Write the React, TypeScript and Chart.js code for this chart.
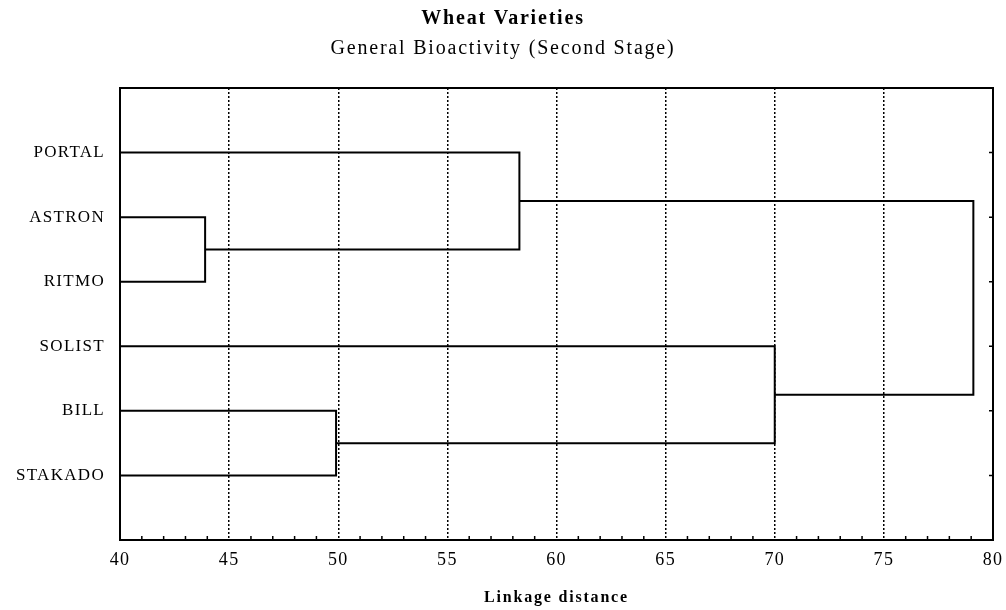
import React, { useEffect, useRef } from "react";
import { Chart, registerables } from "chart.js";

Chart.register(...registerables);

const categories = ["PORTAL", "ASTRON", "RITMO", "SOLIST", "BILL", "STAKADO"];
// linkage: node ids 0..5 are leaves, 6.. are merges in order
const mergeLeft = [1, 4, 0, 3, 8];
const mergeRight = [2, 5, 6, 7, 9];
const mergeDistance = [43.9, 49.9, 58.3, 70.0, 79.1];
const xMin = 40;
const xMax = 80;
const xStep = 5;

const titleText = "Wheat Varieties";
const subtitleText = "General Bioactivity (Second Stage)";
const xTitleText = "Linkage distance";

const FONT = "'Liberation Serif', 'Times New Roman', serif";

function buildSegments() {
  const nodeX: number[] = categories.map(() => xMin);
  const nodeY: number[] = categories.map((_, i) => i + 1);
  const segments: { x: number; y: number }[][] = [];
  mergeDistance.forEach((d, k) => {
    const a = mergeLeft[k];
    const b = mergeRight[k];
    segments.push([
      { x: nodeX[a], y: nodeY[a] },
      { x: d, y: nodeY[a] },
      { x: d, y: nodeY[b] },
      { x: nodeX[b], y: nodeY[b] },
    ]);
    nodeX.push(d);
    nodeY.push((nodeY[a] + nodeY[b]) / 2);
  });
  return segments;
}

const framePlugin = {
  id: "framePlugin",
  beforeDraw(chart: any) {
    chart.ctx.letterSpacing = "1.8px";
  },
  afterDatasetsDraw(chart: any) {
    const { ctx, chartArea } = chart;
    const xs = chart.scales.x;
    const ys = chart.scales.y;
    ctx.save();
    ctx.strokeStyle = "#000";
    ctx.lineWidth = 1.5;
    ctx.beginPath();
    for (let v = xMin + 1; v < xMax; v++) {
      if (v % xStep === 0) continue;
      const px = xs.getPixelForValue(v);
      ctx.moveTo(px, chartArea.bottom);
      ctx.lineTo(px, chartArea.bottom - 4);
    }
    categories.forEach((_, i) => {
      const py = ys.getPixelForValue(i + 1);
      ctx.moveTo(chartArea.right, py);
      ctx.lineTo(chartArea.right - 4, py);
    });
    ctx.stroke();
    ctx.lineWidth = 2;
    ctx.strokeRect(
      chartArea.left,
      chartArea.top,
      chartArea.right - chartArea.left,
      chartArea.bottom - chartArea.top
    );
    ctx.restore();
    ctx.letterSpacing = "1.3px";
  },
};

export default function App() {
  const ref = useRef<HTMLCanvasElement | null>(null);
  useEffect(() => {
    document.body.style.margin = "0";
    const segments = buildSegments();
    const chart = new Chart(ref.current as HTMLCanvasElement, {
      type: "scatter",
      data: {
        datasets: segments.map((seg, i) => ({
          label: "merge " + i,
          data: seg,
          showLine: true,
          borderColor: "#000",
          borderWidth: 2,
          pointRadius: 0,
          tension: 0,
          fill: false,
          yAxisID: "y",
        })),
      },
      options: {
        responsive: false,
        animation: false,
        events: [],
        layout: { padding: { left: 0, right: 0, top: 0, bottom: 0 } },
        plugins: {
          legend: { display: false },
          tooltip: { enabled: false },
          title: {
            display: true,
            text: titleText,
            color: "#000",
            font: { family: FONT, size: 20, weight: "bold" },
            padding: { top: 6.5, bottom: 0 },
          },
          subtitle: {
            display: true,
            text: subtitleText,
            color: "#000",
            font: { family: FONT, size: 20, weight: "normal" },
            padding: { top: 6, bottom: 27.5 },
          },
        },
        scales: {
          x: {
            type: "linear",
            min: xMin,
            max: xMax,
            afterFit(scale: any) {
              scale.height = 70;
              scale.paddingLeft = 0;
              scale.paddingRight = 0;
            },
            ticks: {
              stepSize: xStep,
              color: "#000",
              font: { family: FONT, size: 18 },
              padding: 9,
              z: 1,
            },
            grid: {
              color: "#000",
              lineWidth: 1.5,
              drawTicks: false,
            },
            border: { display: false, dash: [2, 2] },
            title: {
              display: true,
              text: xTitleText,
              color: "#000",
              font: { family: FONT, size: 16, weight: "bold" },
              padding: { top: 4, bottom: 3 },
            },
          },
          y: {
            type: "linear",
            position: "left",
            min: 0,
            max: 7,
            reverse: true,
            afterFit(scale: any) {
              scale.width = 120;
              scale.paddingTop = 0;
              scale.paddingBottom = 0;
            },
            ticks: {
              stepSize: 1,
              autoSkip: false,
              color: "#000",
              font: { family: FONT, size: 17 },
              padding: 15,
              z: 1,
              callback: (v: any) => categories[Number(v) - 1] ?? "",
            },
            grid: { display: false, drawTicks: false },
            border: { display: false },
          },
          y2: {
            type: "linear",
            position: "right",
            min: 0,
            max: 7,
            reverse: true,
            afterFit(scale: any) {
              scale.width = 13;
            },
            ticks: { display: false },
            grid: { display: false, drawTicks: false },
            border: { display: false },
          },
        },
      },
      plugins: [framePlugin],
    });
    return () => chart.destroy();
  }, []);
  return (
    <div style={{ width: 1006, height: 610, background: "#fff" }}>
      <canvas ref={ref} width={1006} height={610} style={{ display: "block" }} />
    </div>
  );
}
